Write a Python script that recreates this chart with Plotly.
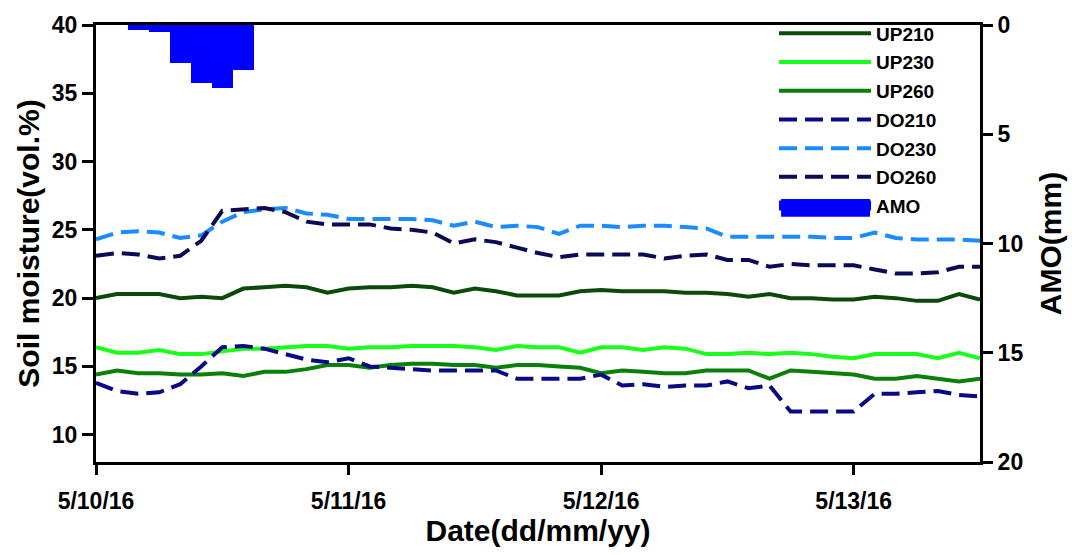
import pandas as pd
import plotly.graph_objects as go

# Two-hourly readings, 5/10/16 00:00 through 5/13/16 12:00
times = pd.date_range("2016-05-10 00:00", periods=43, freq="2h")

up210 = [20.0, 20.3, 20.3, 20.3, 20.0, 20.1, 20.0, 20.7, 20.8, 20.9,
         20.8, 20.4, 20.7, 20.8, 20.8, 20.9, 20.8, 20.4, 20.7, 20.5,
         20.2, 20.2, 20.2, 20.5, 20.6, 20.5, 20.5, 20.5, 20.4, 20.4,
         20.3, 20.1, 20.3, 20.0, 20.0, 19.9, 19.9, 20.1, 20.0, 19.8,
         19.8, 20.3, 19.9]
up230 = [16.4, 16.0, 16.0, 16.2, 15.9, 15.9, 16.1, 16.3, 16.3, 16.4,
         16.5, 16.5, 16.3, 16.4, 16.4, 16.5, 16.5, 16.5, 16.4, 16.2,
         16.5, 16.4, 16.4, 16.0, 16.4, 16.4, 16.2, 16.4, 16.3, 15.9,
         15.9, 16.0, 15.9, 16.0, 15.9, 15.7, 15.6, 15.9, 15.9, 15.9,
         15.6, 16.0, 15.6]
up260 = [14.4, 14.7, 14.5, 14.5, 14.4, 14.4, 14.5, 14.3, 14.6, 14.6,
         14.8, 15.1, 15.1, 14.9, 15.1, 15.2, 15.2, 15.1, 15.1, 14.9,
         15.1, 15.1, 15.0, 14.9, 14.5, 14.7, 14.6, 14.5, 14.5, 14.7,
         14.7, 14.7, 14.1, 14.7, 14.6, 14.5, 14.4, 14.1, 14.1, 14.3,
         14.1, 13.9, 14.1]
do210 = [13.8, 13.2, 13.0, 13.1, 13.7, 15.0, 16.4, 16.5, 16.3, 15.9,
         15.5, 15.3, 15.6, 15.0, 14.9, 14.8, 14.7, 14.7, 14.7, 14.7,
         14.1, 14.1, 14.1, 14.1, 14.4, 13.6, 13.7, 13.5, 13.6, 13.6,
         13.9, 13.4, 13.6, 11.7, 11.7, 11.7, 11.7, 13.0, 13.0, 13.1,
         13.2, 12.9, 12.8]
do230 = [24.3, 24.8, 24.9, 24.8, 24.4, 24.6, 25.6, 26.3, 26.5, 26.6,
         26.2, 26.1, 25.8, 25.8, 25.8, 25.8, 25.7, 25.3, 25.6, 25.2,
         25.3, 25.2, 24.7, 25.3, 25.3, 25.2, 25.3, 25.3, 25.2, 25.1,
         24.5, 24.5, 24.5, 24.5, 24.5, 24.4, 24.4, 24.8, 24.4, 24.3,
         24.3, 24.3, 24.2]
do260 = [23.1, 23.3, 23.2, 22.9, 23.1, 24.2, 26.4, 26.5, 26.6, 26.3,
         25.6, 25.4, 25.4, 25.4, 25.1, 25.0, 24.8, 24.0, 24.3, 24.1,
         23.7, 23.3, 23.0, 23.2, 23.2, 23.2, 23.2, 22.9, 23.1, 23.2,
         22.8, 22.8, 22.3, 22.5, 22.4, 22.4, 22.4, 22.1, 21.8, 21.8,
         21.9, 22.3, 22.3]

# Rainfall (AMO, mm) per two-hour interval
amo_times = ["2016-05-10 04:00", "2016-05-10 06:00", "2016-05-10 08:00",
             "2016-05-10 10:00", "2016-05-10 12:00", "2016-05-10 14:00"]
amo_mm = [0.24, 0.33, 1.73, 2.65, 2.90, 2.05]

date_ticks = ["2016-05-10", "2016-05-11", "2016-05-12", "2016-05-13"]
date_labels = ["5/10/16", "5/11/16", "5/12/16", "5/13/16"]

FONT = "Liberation Sans, Arial, sans-serif"
DASH = "18px,8px"
AMO_BLUE = "#0000ff"

series = [
    ("UP210", up210, "#0b4a0b", "solid"),
    ("UP230", up230, "#1aff1a", "solid"),
    ("UP260", up260, "#0a800a", "solid"),
    ("DO210", do210, "#0a0a85", DASH),
    ("DO230", do230, "#1a8cff", DASH),
    ("DO260", do260, "#0a0a55", DASH),
]

fig = go.Figure()
for name, vals, color, dash in series:
    fig.add_trace(go.Scatter(
        x=times, y=vals, name=name, mode="lines",
        line=dict(color=color, width=4, dash=dash),
        legendgroup=name,
    ))

# Rain bars hang from the top on the reversed right axis
fig.add_trace(go.Bar(
    x=amo_times, y=amo_mm, name="AMO", yaxis="y2",
    width=2 * 3600 * 1000, marker=dict(color=AMO_BLUE, line=dict(width=0)),
    legendgroup="AMO", showlegend=False,
))
# Legend entry for AMO (block swatch)
fig.add_trace(go.Scatter(
    x=[None], y=[None], name="AMO", mode="lines", yaxis="y2",
    line=dict(color=AMO_BLUE, width=18),
    legendgroup="AMO",
))

tick_font = dict(size=23, family=FONT, weight="bold")
title_font = dict(size=30, family=FONT)

fig.update_layout(
    width=1078, height=555,
    margin=dict(l=96, r=98, t=20, b=93),
    paper_bgcolor="white", plot_bgcolor="white",
    font=dict(family=FONT, color="black"),
    bargap=0,
    xaxis=dict(
        type="date",
        range=["2016-05-10 00:00", "2016-05-13 12:00"],
        tickvals=date_ticks, ticktext=date_labels,
        tickfont=tick_font, ticklabelstandoff=6,
        ticks="outside", ticklen=10, tickwidth=3, tickcolor="black",
        showline=True, linewidth=3, linecolor="black", mirror=True,
        showgrid=False, zeroline=False,
        title=dict(text="<b>Date(dd/mm/yy)</b>", font=title_font, standoff=6),
    ),
    yaxis=dict(
        range=[8, 40],
        tickvals=[10, 15, 20, 25, 30, 35, 40],
        tickfont=tick_font,
        ticks="outside", ticklen=11, tickwidth=3, tickcolor="black",
        showline=True, linewidth=3, linecolor="black",
        showgrid=False, zeroline=False,
        title=dict(text="<b>Soil moisture(vol.%)</b>", font=title_font, standoff=4),
    ),
    yaxis2=dict(
        overlaying="y", side="right",
        range=[20, 0],
        tickvals=[0, 5, 10, 15, 20],
        tickfont=tick_font,
        ticks="outside", ticklen=10, tickwidth=3, tickcolor="black",
        showline=True, linewidth=3, linecolor="black",
        showgrid=False, zeroline=False,
        title=dict(text="<b>AMO(mm)</b>", font=title_font, standoff=18),
    ),
    legend=dict(
        x=0.767, y=1.024, xanchor="left", yanchor="top",
        bgcolor="rgba(0,0,0,0)",
        font=dict(size=19, family=FONT, weight="bold"),
        itemwidth=92,
        traceorder="grouped", tracegroupgap=1,
    ),
    # Full-height block behind the AMO legend swatch
    shapes=[dict(
        type="rect", xref="paper", yref="paper",
        x0=0.775, x1=0.8756, y0=0.561, y1=0.602,
        fillcolor=AMO_BLUE, line=dict(width=0), layer="above",
    )],
)

fig.write_html("out.html")
